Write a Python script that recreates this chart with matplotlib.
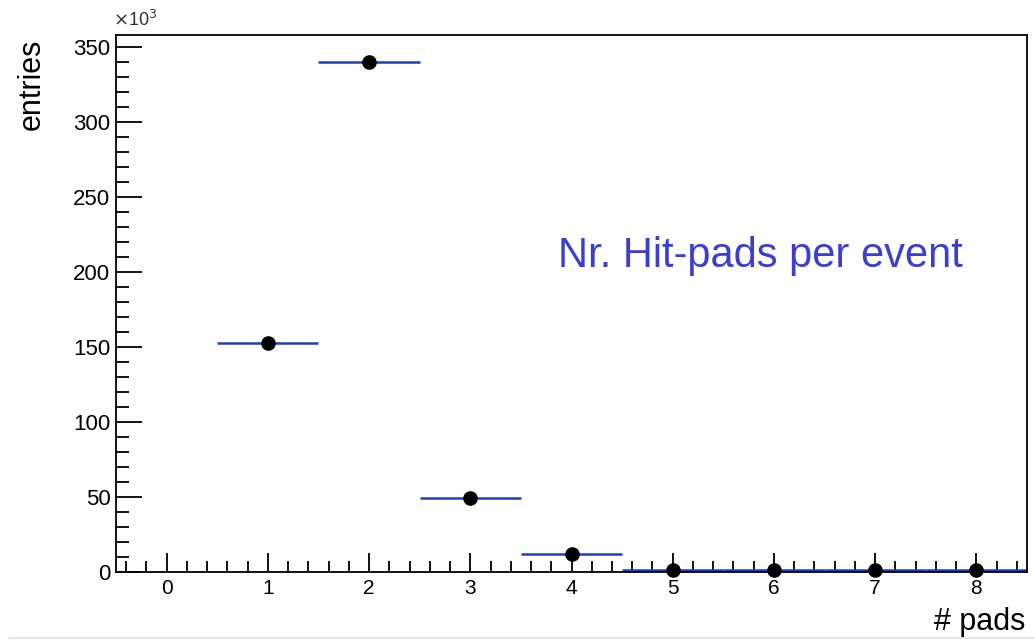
import matplotlib
matplotlib.use("Agg")
import matplotlib.pyplot as plt
from matplotlib.ticker import MultipleLocator
import numpy as np

# data (entries in units of 10^3)
n_pads = [1, 2, 3, 4, 5, 6, 7, 8]
entries_k = [152.5, 340.0, 49.3, 12.3, 1.6, 1.4, 1.3, 1.2]
bin_half_width = 0.5

plt.rcParams['font.family'] = ['Liberation Sans', 'DejaVu Sans']

fig = plt.figure(figsize=(10.35, 6.42), dpi=100)
ax = fig.add_axes([116/1035, 1 - 572/642, (1027-116)/1035, (572-35)/642])

ax.errorbar(n_pads, entries_k, xerr=bin_half_width, fmt='none',
            ecolor='#1f3fb5', elinewidth=1.8, capsize=0, zorder=2)
ax.plot(n_pads, entries_k, 'o', color='black', markersize=9.5, zorder=3, clip_on=False)

ax.set_xlim(-0.5, 8.5)
ax.set_ylim(0, 358)
ax.xaxis.set_major_locator(MultipleLocator(1))
ax.xaxis.set_minor_locator(MultipleLocator(0.2))
ax.yaxis.set_major_locator(MultipleLocator(50))
ax.yaxis.set_minor_locator(MultipleLocator(10))
ax.tick_params(axis='x', which='major', direction='in', length=14, width=1.3,
               labelsize=15, top=False, pad=5)
ax.tick_params(axis='x', which='minor', direction='in', length=8, width=1.3, top=False)
ax.tick_params(axis='y', which='major', direction='in', length=19, width=1.3,
               labelsize=16, right=False, pad=4)
ax.tick_params(axis='y', which='minor', direction='in', length=9, width=1.3, right=False)
for sp in ax.spines.values():
    sp.set_linewidth(1.3)

fig.text(1025/1035, 1 - 622/642, '# pads', fontsize=22, ha='right', va='center')
fig.text(32/1035, 1 - 84/642, 'entries', fontsize=22, rotation=90, ha='center', va='center')
fig.text(113/1035, 1 - 20/642, r'$\times$10$^{3}$', fontsize=13, ha='left', va='center',
         color='#333333')
ax.text(558/1035, 1 - 267/642, 'Nr. Hit-pads per event', transform=fig.transFigure,
        fontsize=30, color='#3b3fd0', ha='left', va='baseline')

fig.add_artist(plt.Line2D([10/1035, 1], [1 - 638/642, 1 - 638/642],
                          transform=fig.transFigure, color='#e6e6e6', linewidth=1.5))

fig.savefig('out.png', dpi=100)
